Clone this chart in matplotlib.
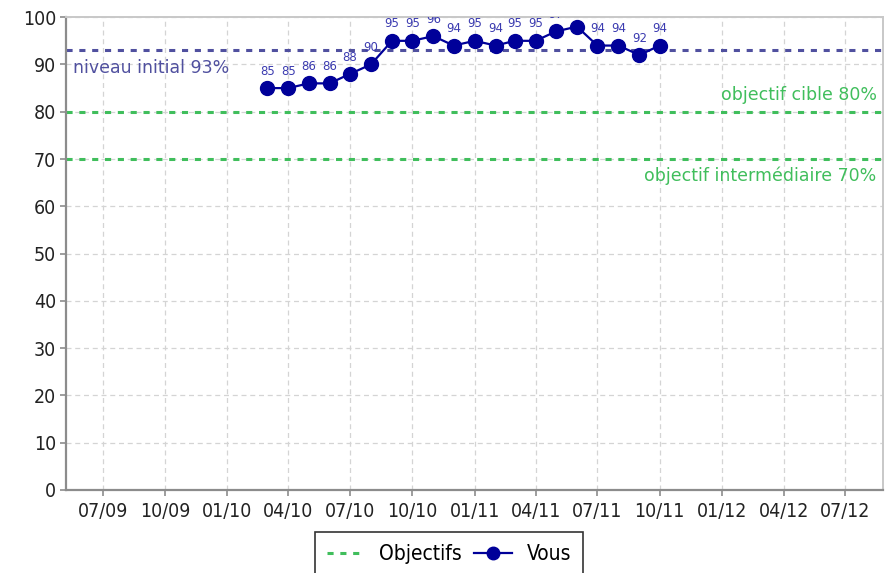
import datetime as dt
import matplotlib
matplotlib.use("Agg")
import matplotlib.pyplot as plt
import matplotlib.dates as mdates
from matplotlib.lines import Line2D

# monthly scores, March 2010 -> October 2011
months = [dt.date(2010, 3, 1), dt.date(2010, 4, 1), dt.date(2010, 5, 1), dt.date(2010, 6, 1),
          dt.date(2010, 7, 1), dt.date(2010, 8, 1), dt.date(2010, 9, 1), dt.date(2010, 10, 1),
          dt.date(2010, 11, 1), dt.date(2010, 12, 1), dt.date(2011, 1, 1), dt.date(2011, 2, 1),
          dt.date(2011, 3, 1), dt.date(2011, 4, 1), dt.date(2011, 5, 1), dt.date(2011, 6, 1),
          dt.date(2011, 7, 1), dt.date(2011, 8, 1), dt.date(2011, 9, 1), dt.date(2011, 10, 1)]
vous = [85, 85, 86, 86, 88, 90, 95, 95, 96, 94, 95, 94, 95, 95, 97, 98, 94, 94, 92, 94]

niveau_initial = 93
objectif_cible = 80
objectif_inter = 70

x_start = dt.date(2009, 5, 8)
x_end = dt.date(2012, 8, 25)

blue = "#000099"
slate = "#50509f"
green = "#40be5c"

fig = plt.figure(figsize=(8.88, 5.73), dpi=100)
ax = fig.add_axes([0.0743, 0.145, 0.9197, 0.825])

# reference lines
ax.axhline(niveau_initial, color=slate, lw=2.2, dashes=(2, 2.2), zorder=2)
ax.axhline(objectif_cible, color=green, lw=2.2, dashes=(2, 2.2), zorder=2)
ax.axhline(objectif_inter, color=green, lw=2.2, dashes=(2, 2.2), zorder=2)

tr = ax.get_yaxis_transform()
ax.text(0.0086, 88.1, "niveau initial 93%", transform=tr, color=slate, fontsize=12.5,
        ha="left", va="baseline")
ax.text(0.9927, 82.4, "objectif cible 80%", transform=tr, color=green, fontsize=12.5,
        ha="right", va="baseline")
ax.text(0.9927, 65.4, "objectif intermédiaire 70%", transform=tr, color=green, fontsize=12.5,
        ha="right", va="baseline")

# the series
ax.plot(months, vous, color=blue, lw=1.6, marker="o", ms=10, zorder=4)
for d, v in zip(months, vous):
    ax.annotate(str(v), (d, v), xytext=(0, 7.5), textcoords="offset points",
                ha="center", va="bottom", fontsize=8.5, color="#3b3bb0",
                annotation_clip=False, clip_on=True, zorder=5)

ax.set_xlim(x_start, x_end)
ax.set_ylim(0, 100)
ax.set_yticks(range(0, 101, 10))
ax.xaxis.set_major_locator(mdates.MonthLocator(bymonth=[1, 4, 7, 10]))
ax.xaxis.set_major_formatter(mdates.DateFormatter("%m/%y"))

ax.grid(True, color="#d4d4d4", lw=0.9, dashes=(4, 3))
ax.set_axisbelow(True)

for side in ["left", "bottom"]:
    ax.spines[side].set_color("#8c8c8c")
    ax.spines[side].set_linewidth(1.6)
for side in ["top", "right"]:
    ax.spines[side].set_color("#c8c8c8")
    ax.spines[side].set_linewidth(1.4)

ax.tick_params(axis="both", colors="#8c8c8c", labelcolor="#222222", labelsize=14,
               length=4, width=1.2)
ax.tick_params(axis="x", pad=5)
ax.tick_params(axis="y", pad=3)
for lab in ax.get_xticklabels() + ax.get_yticklabels():
    lab.set_fontstretch("condensed")

handles = [Line2D([], [], color=green, lw=2.2, dashes=(2, 2.2)),
           Line2D([], [], color=blue, lw=1.6, marker="o", ms=9)]
leg = fig.legend(handles, ["Objectifs", "Vous"], loc="upper center",
                 bbox_to_anchor=(449 / 888, 1 - 532 / 573), ncol=2, fontsize=15,
                 frameon=True, fancybox=False, edgecolor="black", handlelength=1.8,
                 columnspacing=0.6, handletextpad=0.7, borderpad=0.6, borderaxespad=0)
leg.get_frame().set_linewidth(1.2)
for t in leg.get_texts():
    t.set_fontstretch("condensed")

fig.savefig("out.png", dpi=100)
